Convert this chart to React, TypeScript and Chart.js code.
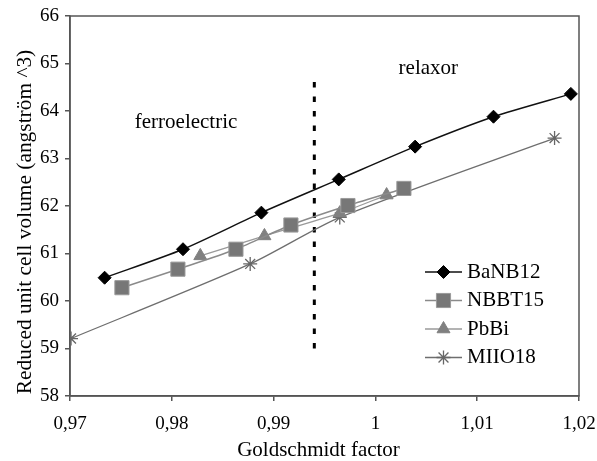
import React, { useEffect, useRef } from "react";
import { Chart, registerables } from "chart.js";
import { drawPoint } from "chart.js/helpers";

Chart.register(...registerables);

const seriesNames = ["BaNB12", "NBBT15", "PbBi", "MIIO18"];

const banb12X = [0.9734, 0.9811, 0.9888, 0.9964, 1.0039, 1.0116, 1.0192];
const banb12Y = [60.49, 61.09, 61.86, 62.56, 63.25, 63.88, 64.36];

const nbbt15X = [0.9751, 0.9806, 0.9863, 0.9917, 0.9973, 1.0028];
const nbbt15Y = [60.28, 60.67, 61.09, 61.6, 62.01, 62.37];

const pbbiX = [0.9828, 0.9891, 0.9965, 1.0011];
const pbbiY = [60.95, 61.37, 61.85, 62.23];

const miio18X = [0.9701, 0.9877, 0.9965, 1.0176];
const miio18Y = [59.21, 60.78, 61.76, 63.43];

const boundaryX = [0.994, 0.994];
const boundaryY = [59.0, 64.8];

const xTicks = [0.97, 0.98, 0.99, 1.0, 1.01, 1.02];
const xTickLabels = ["0,97", "0,98", "0,99", "1", "1,01", "1,02"];
const yTicks = [58, 59, 60, 61, 62, 63, 64, 65, 66];
const yTickLabels = ["58", "59", "60", "61", "62", "63", "64", "65", "66"];

const regionLabels = ["ferroelectric", "relaxor"];
const regionLabelX = [0.9814, 1.0052];
const regionLabelY = [63.75, 64.9];

const xTitle = "Goldschmidt factor";
const yTitle = "Reduced unit cell volume (angström ^3)";

const FONT = "'Liberation Serif', 'Times New Roman', serif";
const AXIS = "#555555";

const zip = (xs: number[], ys: number[]) => xs.map((x, i) => ({ x, y: ys[i] }));

const frameAndText = {
  id: "frameAndText",
  beforeDatasetsDraw(chart: any) {
    const { ctx, chartArea, scales } = chart;
    ctx.save();
    ctx.strokeStyle = AXIS;
    ctx.lineWidth = 1.5;
    ctx.strokeRect(chartArea.left, chartArea.top, chartArea.right - chartArea.left, chartArea.bottom - chartArea.top);
    ctx.fillStyle = "#000";
    ctx.font = `21px ${FONT}`;
    ctx.textAlign = "center";
    ctx.textBaseline = "middle";
    regionLabels.forEach((t, i) => {
      ctx.fillText(t, scales.x.getPixelForValue(regionLabelX[i]), scales.y.getPixelForValue(regionLabelY[i]));
    });
    // axis titles
    ctx.fillText(xTitle, (chartArea.left + chartArea.right) / 2 - 6, chartArea.bottom + 54);
    ctx.save();
    ctx.translate(chartArea.left - 45, (chartArea.top + chartArea.bottom) / 2 + 16);
    ctx.rotate(-Math.PI / 2);
    ctx.font = `21.4px ${FONT}`;
    ctx.fillText(yTitle, 0, 0);
    ctx.restore();
    ctx.restore();
  },
  afterDraw(chart: any) {
    const { ctx, chartArea } = chart;
    ctx.save();
    const x0 = chartArea.right - 154;
    const x1 = chartArea.right - 117;
    const xm = (x0 + x1) / 2;
    const y0 = chartArea.bottom - 124;
    chart.data.datasets.forEach((ds: any, i: number) => {
      if (!ds.inLegend) return;
      const y = y0 + i * 28.5;
      ctx.strokeStyle = ds.borderColor;
      ctx.lineWidth = ds.borderWidth;
      ctx.setLineDash([]);
      ctx.beginPath();
      ctx.moveTo(x0, y);
      ctx.lineTo(x1, y);
      ctx.stroke();
      ctx.fillStyle = ds.pointBackgroundColor;
      ctx.strokeStyle = ds.pointBorderColor;
      ctx.lineWidth = ds.pointBorderWidth;
      drawPoint(ctx, { pointStyle: ds.pointStyle, radius: ds.pointRadius, rotation: 0, borderWidth: ds.pointBorderWidth }, xm, y);
      ctx.fillStyle = "#000";
      ctx.font = `21px ${FONT}`;
      ctx.textAlign = "left";
      ctx.textBaseline = "middle";
      ctx.fillText(ds.label, x1 + 5, y);
    });
    ctx.restore();
  },
};

export default function App() {
  const ref = useRef<HTMLCanvasElement | null>(null);
  useEffect(() => {
    if (!ref.current) return;
    const chart = new Chart(ref.current, {
      type: "scatter",
      data: {
        datasets: [
          {
            label: seriesNames[0],
            data: zip(banb12X, banb12Y),
            showLine: true,
            borderColor: "#111111",
            borderWidth: 1.5,
            tension: 0.25,
            pointStyle: "rectRot",
            pointRadius: 6.5,
            pointBackgroundColor: "#000000",
            pointBorderColor: "#000000",
            pointBorderWidth: 1,
            inLegend: true,
          } as any,
          {
            label: seriesNames[1],
            data: zip(nbbt15X, nbbt15Y),
            showLine: true,
            borderColor: "#8a8a8a",
            borderWidth: 1.5,
            tension: 0.25,
            pointStyle: "rect",
            pointRadius: 10,
            pointBackgroundColor: "#777777",
            pointBorderColor: "#9a9a9a",
            pointBorderWidth: 1,
            inLegend: true,
          } as any,
          {
            label: seriesNames[2],
            data: zip(pbbiX, pbbiY),
            showLine: true,
            borderColor: "#9a9a9a",
            borderWidth: 1.3,
            tension: 0.25,
            pointStyle: "triangle",
            pointRadius: 7.5,
            pointBackgroundColor: "#808080",
            pointBorderColor: "#808080",
            pointBorderWidth: 1,
            inLegend: true,
          } as any,
          {
            label: seriesNames[3],
            data: zip(miio18X, miio18Y),
            showLine: true,
            borderColor: "#6e6e6e",
            borderWidth: 1.3,
            tension: 0.25,
            pointStyle: "star",
            pointRadius: 7,
            pointBackgroundColor: "#666666",
            pointBorderColor: "#666666",
            pointBorderWidth: 1.3,
            inLegend: true,
          } as any,
          {
            label: "boundary",
            data: zip(boundaryX, boundaryY),
            showLine: true,
            borderColor: "#000000",
            borderWidth: 3,
            borderDash: [5.5, 9],
            pointRadius: 0,
            inLegend: false,
          } as any,
        ],
      },
      options: {
        responsive: false,
        animation: false,
        layout: { padding: { top: 16, right: 18, left: 0, bottom: 0 } },
        plugins: { legend: { display: false }, tooltip: { enabled: false } },
        scales: {
          x: {
            type: "linear",
            min: 0.97,
            max: 1.02,
            afterBuildTicks: (s: any) => {
              s.ticks = xTicks.map((v) => ({ value: v }));
            },
            afterFit: (s: any) => {
              s.height = 65;
              s.paddingLeft = 0;
              s.paddingRight = 0;
            },
            ticks: {
              callback: (_v: any, i: number) => xTickLabels[i],
              font: { family: FONT, size: 19 },
              color: "#000",
              padding: 12,
              maxRotation: 0,
            },
            grid: { display: true, drawOnChartArea: false, drawTicks: true, tickLength: 5, color: AXIS, lineWidth: 1.5 },
            border: { display: true, color: AXIS, width: 1.5 },
            title: { display: false },
          },
          y: {
            type: "linear",
            min: 58,
            max: 66,
            afterBuildTicks: (s: any) => {
              s.ticks = yTicks.map((v) => ({ value: v }));
            },
            afterFit: (s: any) => {
              s.width = 70;
              s.paddingTop = 0;
              s.paddingBottom = 0;
            },
            ticks: {
              callback: (_v: any, i: number) => yTickLabels[i],
              font: { family: FONT, size: 19 },
              color: "#000",
              padding: 6,
            },
            grid: { display: true, drawOnChartArea: false, drawTicks: true, tickLength: 5, color: AXIS, lineWidth: 1.5 },
            border: { display: true, color: AXIS, width: 1.5 },
            title: { display: false },
          },
        },
      } as any,
      plugins: [frameAndText],
    });
    return () => chart.destroy();
  }, []);
  return (
    <div style={{ position: "absolute", left: 0, top: 0, width: 597, height: 461, background: "#fff" }}>
      <canvas ref={ref} width={597} height={461} />
    </div>
  );
}
